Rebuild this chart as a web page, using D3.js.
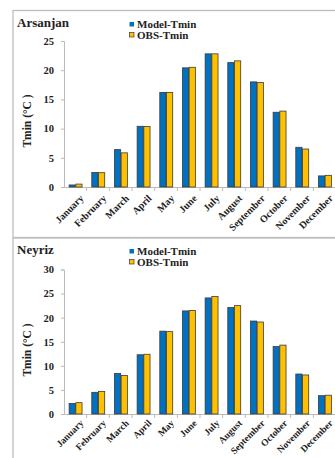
<!DOCTYPE html>
<html><head><meta charset="utf-8">
<script src="https://cdn.jsdelivr.net/npm/d3@7"></script>
<style>
html,body{margin:0;padding:0;background:#fff;}
svg{display:block;}
text{font-family:"Liberation Serif","Times New Roman",serif;font-weight:bold;fill:#222;}
</style></head>
<body>
<svg id="c" width="335" height="458"></svg>
<script>
const months = ["January","February","March","April","May","June","July","August","September","October","November","December"];
const seriesNames = ["Model-Tmin","OBS-Tmin"];
const arsanjanModel = [0.35,2.5,6.4,10.4,16.2,20.4,22.8,21.3,18.0,12.8,6.8,1.9];
const arsanjanObs   = [0.5,2.45,5.85,10.35,16.2,20.5,22.8,21.6,17.9,13.0,6.5,2.0];
const neyrizModel   = [2.2,4.5,8.4,12.3,17.2,21.4,24.1,22.1,19.3,14.0,8.3,3.8];
const neyrizObs     = [2.35,4.7,8.0,12.4,17.1,21.5,24.4,22.5,19.1,14.3,8.1,3.9];
const arsanjanTicks = [0,5,10,15,20,25];
const neyrizTicks   = [0,5,10,15,20,25,30];
const colors = ["#0070C0","#FFC000"];

const svg = d3.select("#c");

// panel frames
svg.append("rect").attr("x",13).attr("y",10.5).attr("width",340).attr("height",227)
  .attr("fill","none").attr("stroke","#bdbdbd").attr("stroke-width",1.3);
svg.append("rect").attr("x",13).attr("y",238).attr("width",340).attr("height",240)
  .attr("fill","none").attr("stroke","#bdbdbd").attr("stroke-width",1.3);

function panel(opt){
  const g = svg.append("g");
  const x = d3.scaleBand().domain(months).range([64,336]).padding(0);
  const xi = d3.scaleBand().domain(seriesNames).range([0,x.bandwidth()]).paddingInner(0).paddingOuter(0.69);
  const y = d3.scaleLinear().domain([0,opt.max]).range([opt.y0,opt.yTop]);

  // y axis
  const ya = g.append("g").attr("transform",`translate(64,0)`)
    .call(d3.axisLeft(y).tickValues(opt.ticks).tickSize(3).tickPadding(7).tickFormat(d3.format("d")));
  ya.select(".domain").attr("stroke","#bbb");
  ya.selectAll(".tick line").attr("stroke","#bbb");
  ya.selectAll("text").attr("font-size",10.5).attr("font-family","Liberation Serif").attr("font-weight","bold").attr("fill","#222");

  // x axis
  const xa = g.append("g").attr("transform",`translate(0,${opt.y0})`)
    .call(d3.axisBottom(x).tickSize(0).tickFormat(""));
  xa.select(".domain").attr("stroke","#bbb");
  xa.selectAll(".tick").remove();
  g.selectAll("line.xt").data(months).enter().append("line")
    .attr("x1",d=>x(d)+x.bandwidth()).attr("x2",d=>x(d)+x.bandwidth())
    .attr("y1",opt.y0).attr("y2",opt.y0+4).attr("stroke","#bbb");

  // bars
  const rows = months.map((m,i)=>({m, vals:[opt.model[i],opt.obs[i]]}));
  const grp = g.selectAll("g.m").data(rows).enter().append("g").attr("transform",d=>`translate(${x(d.m)},0)`);
  grp.selectAll("rect").data(d=>d.vals.map((v,k)=>({k,v}))).enter().append("rect")
    .attr("x",d=>xi(seriesNames[d.k])+0.5)
    .attr("y",d=>y(d.v))
    .attr("width",xi.bandwidth()-0.5)
    .attr("height",d=>opt.y0-y(d.v))
    .attr("fill",d=>colors[d.k])
    .attr("stroke","#3a3a3a").attr("stroke-width",0.8);

  // month labels
  g.selectAll("text.ml").data(months).enter().append("text")
    .attr("class","ml")
    .attr("transform",d=>`translate(${x(d)+x.bandwidth()/2+4},${opt.y0+opt.lblOff}) rotate(-45)`)
    .attr("text-anchor","end").attr("dy","0.7em")
    .attr("font-size",opt.lblSize).text(d=>d);

  // title
  g.append("text").attr("x",17).attr("y",opt.titleY).attr("font-size",13).text(opt.title);

  // y title
  g.append("text").attr("transform",`translate(31,${opt.yTitleC}) rotate(-90)`)
    .attr("text-anchor","middle").attr("font-size",11.5).text("Tmin (°C )");

  // legend
  seriesNames.forEach((s,k)=>{
    const ly = opt.legY + k*10.5;
    g.append("rect").attr("x",129.5).attr("y",ly-6).attr("width",4.5).attr("height",4.5)
      .attr("fill",colors[k]).attr("stroke",k===1?"#3a3a3a":"none").attr("stroke-width",0.7);
    g.append("text").attr("x",137).attr("y",ly).attr("font-size",11).text(s);
  });
}

panel({title:"Arsanjan",titleY:27,model:arsanjanModel,obs:arsanjanObs,max:25,ticks:arsanjanTicks,
  y0:187,yTop:41,yTitleC:121,legY:28,lblOff:7,lblSize:10});
panel({title:"Neyriz",titleY:254,model:neyrizModel,obs:neyrizObs,max:30,ticks:neyrizTicks,
  y0:414,yTop:269.5,yTitleC:350,legY:255,lblOff:5,lblSize:9.5});
</script>
</body></html>
